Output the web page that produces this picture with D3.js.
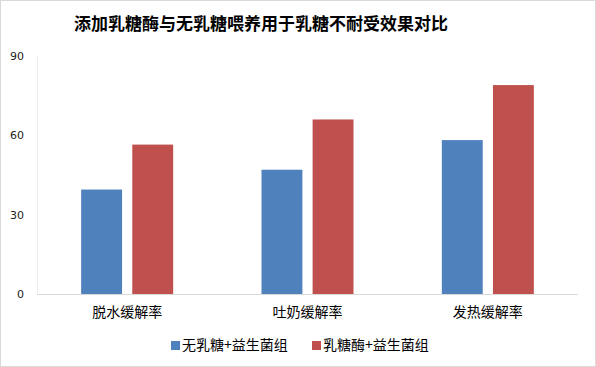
<!DOCTYPE html>
<html><head><meta charset="utf-8">
<script src="https://cdn.jsdelivr.net/npm/d3@7"></script>
<style>body{margin:0;background:#fff}svg{display:block}</style>
</head><body>
<svg id="c" width="596" height="367"></svg>
<script>
const title = "添加乳糖酶与无乳糖喂养用于乳糖不耐受效果对比";
const categories = ["脱水缓解率", "吐奶缓解率", "发热缓解率"];
const seriesNames = ["无乳糖+益生菌组", "乳糖酶+益生菌组"];
const seriesA = [39.5, 47, 58.2];
const seriesB = [56.5, 66, 79];
const yTicks = [0, 30, 60, 90];
const colors = ["#4f81bd", "#c0504d"];

const svg = d3.select("#c");
const font = "'Noto Sans CJK SC', 'Liberation Sans', sans-serif";
svg.append("rect").attr("x",0.5).attr("y",0.5).attr("width",595).attr("height",366)
  .attr("fill","#fff").attr("stroke","#d9d9d9");

const L = 37, R = 578, T = 56, B = 294;
const y = d3.scaleLinear().domain([0, 90]).range([B, T]);
const x0 = d3.scaleBand().domain(categories).range([L, R]);
const x1 = d3.scaleBand().domain(seriesNames).range([-46, 46]).paddingInner(0.2);

svg.append("text").attr("x", 261).attr("y", 30).attr("text-anchor","middle")
  .attr("font-family", font).attr("font-weight","bold").attr("font-size", 17)
  .attr("fill","#000").text(title);

// y axis line
svg.append("line").attr("x1",L+0.5).attr("x2",L+0.5).attr("y1",T).attr("y2",B)
  .attr("stroke","#ececec");

const yAxis = d3.axisLeft(y).tickValues(yTicks).tickSize(0).tickPadding(13);
const gy = svg.append("g").attr("transform",`translate(${L},0)`).call(yAxis);
gy.select(".domain").remove();
gy.selectAll("text").attr("font-family","'DejaVu Sans', sans-serif").attr("font-size",11).attr("fill","#222");

const data = categories.map((c,i)=>({cat:c, vals:[seriesA[i], seriesB[i]]}));
const g = svg.append("g");
data.forEach(d=>{
  const cx = x0(d.cat) + x0.bandwidth()/2;
  d.vals.forEach((v,j)=>{
    g.append("rect").attr("x", cx + x1(seriesNames[j])).attr("width", x1.bandwidth())
      .attr("y", y(v)).attr("height", y(0)-y(v)).attr("fill", colors[j]);
  });
});

// baseline
svg.append("line").attr("x1",L).attr("x2",R).attr("y1",B+0.5).attr("y2",B+0.5)
  .attr("stroke","#d9d9d9");

const xAxis = d3.axisBottom(x0).tickSize(0).tickPadding(13);
const gx = svg.append("g").attr("transform",`translate(0,${B})`).call(xAxis);
gx.select(".domain").remove();
gx.selectAll("text").attr("font-family", font).attr("font-size",14).attr("fill","#000");

// legend
const legX = [171, 312];
seriesNames.forEach((s,j)=>{
  svg.append("rect").attr("x",legX[j]).attr("y",341).attr("width",9).attr("height",9).attr("fill",colors[j]);
  svg.append("text").attr("x",legX[j]+11).attr("y",350).attr("font-family",font)
    .attr("font-size",14).attr("fill","#000").text(s);
});
</script>
</body></html>
